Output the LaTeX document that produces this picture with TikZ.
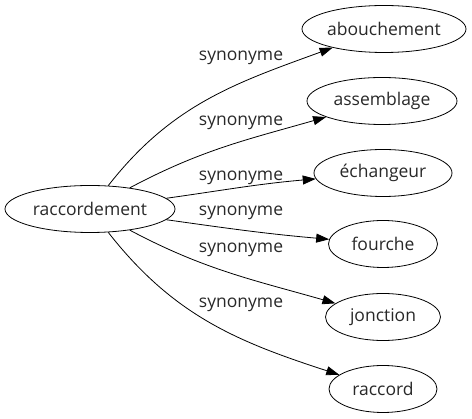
\documentclass[tikz,border=0pt]{standalone}
\usepackage{fontspec}
\setmainfont{Open Sans}
\usetikzlibrary{shapes.geometric,arrows.meta}
\definecolor{txt}{RGB}{40,40,40}
\tikzset{
  word/.style={draw, ellipse, inner sep=0pt, line width=0.8pt, text=txt, font=\fontsize{17.5}{20}\selectfont},
  lbl/.style={inner sep=0pt, text=txt, font=\fontsize{17.5}{20}\selectfont},
  syn/.style={draw, line width=0.8pt, -{Triangle[length=13pt,width=9pt]}},
}
\begin{document}
\begin{tikzpicture}[x=1pt,y=-1pt]
\useasboundingbox (0,0) rectangle (472,419);
\node[word, minimum width=170pt, minimum height=47pt] (r) at (90,209) {raccordement};
\node[word, minimum width=164pt, minimum height=47pt] (a1) at (384,29) {abouchement};
\node[word, minimum width=150pt, minimum height=47pt] (a2) at (382,101) {assemblage};
\node[word, minimum width=138pt, minimum height=47pt] (a3) at (383,173) {échangeur};
\node[word, minimum width=109pt, minimum height=47pt] (a4) at (383,244) {fourche};
\node[word, minimum width=115pt, minimum height=47pt] (a5) at (383,317) {jonction};
\node[word, minimum width=108pt, minimum height=47pt] (a6) at (383,389) {raccord};
\node[lbl] (l1) at (241,58) {synonyme};
\node[lbl] (l2) at (241,123) {synonyme};
\node[lbl] (l3) at (241,178) {synonyme};
\node[lbl] (l4) at (241,213) {synonyme};
\node[lbl] (l5) at (241,250) {synonyme};
\node[lbl] (l6) at (241,305) {synonyme};
\draw[syn] (r) to[out=52, in=200] (a1);
\draw[syn] (r) to[out=28, in=196] (a2);
\draw[syn] (r) to[out=8, in=185] (a3);
\draw[syn] (r) to[out=-8, in=175] (a4);
\draw[syn] (r) to[out=-28, in=164] (a5);
\draw[syn] (r) to[out=-52, in=162] (a6);
\end{tikzpicture}
\end{document}
